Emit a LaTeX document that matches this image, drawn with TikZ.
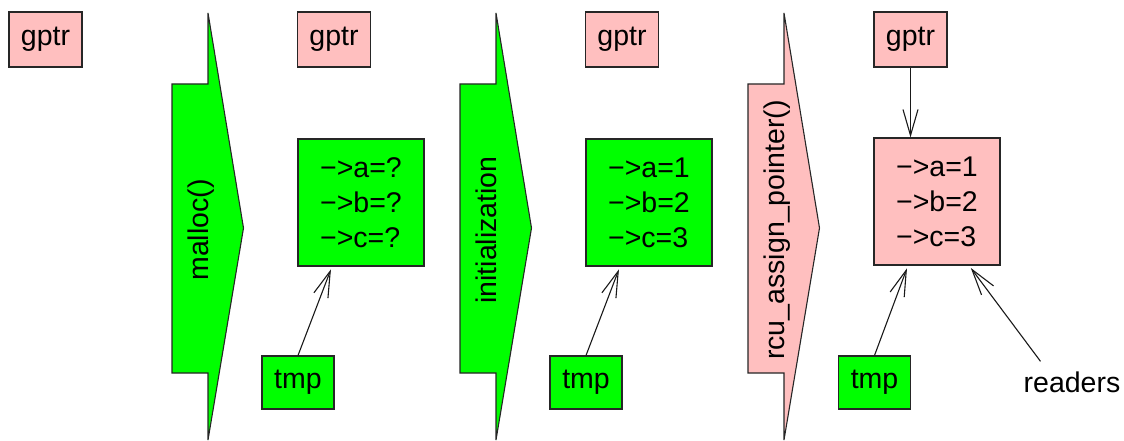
\documentclass[tikz,border=0pt]{standalone}
\usepackage{fontspec}
\setmainfont{Liberation Sans}
\usetikzlibrary{arrows.meta,calc}

\definecolor{xpink}{RGB}{255,191,191}
\definecolor{xgreen}{RGB}{0,255,0}

\tikzset{
  outline/.style={draw=black!85, line width=1.1pt},
  varbox/.style={outline, rectangle, inner sep=0pt,
                 minimum width=73pt, minimum height=55pt,
                 font=\fontsize{28.5}{34}\selectfont},
  structbox/.style={outline, rectangle, inner sep=0pt, align=left,
                 minimum width=126pt, minimum height=127pt,
                 font=\fontsize{28.5}{35}\selectfont},
  banner/.style={outline, line join=miter},
  bannertext/.style={rotate=90, anchor=base, inner sep=0pt,
                 font=\fontsize{28.5}{34}\selectfont},
  plain/.style={inner sep=0pt, font=\fontsize{28.5}{34}\selectfont},
  ptr/.style={draw=black!90, line width=1.1pt,
              -{Straight Barb[length=26pt,width=15pt,line width=1.1pt]}}
}

% Step arrow with a rotated caption; #1 = left edge, #2 = fill, #3 = node name, #4 = caption
\newcommand{\stepbanner}[4]{%
  \path[banner, fill=#2] (#1,84) -- ++(36,0) -- ++(0,-71) -- (#1+71.5,228)
     -- (#1+36,440) -- ++(0,-67) -- (#1,373) -- cycle;
  \node[bannertext] (#3) at (#1+36,230) {#4};
}

\begin{document}
\begin{tikzpicture}[x=1pt,y=-1pt]
\useasboundingbox (0,0) rectangle (1124,441);

% stage 0
\node[varbox, fill=xpink] (g0) at (45.5,39.5) {gptr};

% malloc()
\stepbanner{172}{xgreen}{b1}{malloc()}
\node[varbox, fill=xpink] (g1) at (334,39.5) {gptr};
\node[structbox, fill=xgreen] (s1) at (361,202.5) {−>a=?\\−>b=?\\−>c=?};
\node[varbox, fill=xgreen, minimum width=72pt, minimum height=53pt] (t1) at (298,382.5) {tmp};
\draw[ptr, shorten >=3pt] (t1.north) -- ([xshift=-29pt]s1.south);

% initialization
\stepbanner{460}{xgreen}{b2}{initialization}
\node[varbox, fill=xpink] (g2) at (622,39.5) {gptr};
\node[structbox, fill=xgreen] (s2) at (649,202.5) {−>a=1\\−>b=2\\−>c=3};
\node[varbox, fill=xgreen, minimum width=72pt, minimum height=53pt] (t2) at (586,382.5) {tmp};
\draw[ptr, shorten >=3pt] (t2.north) -- ([xshift=-29pt]s2.south);

% rcu_assign_pointer()
\stepbanner{748}{xpink}{b3}{rcu\_assign\_pointer()}
\node[varbox, fill=xpink] (g3) at (910.5,39.5) {gptr};
\node[structbox, fill=xpink] (s3) at (937,201.5) {−>a=1\\−>b=2\\−>c=3};
\node[varbox, fill=xgreen, minimum width=72pt, minimum height=53pt] (t3) at (874.5,382.5) {tmp};
\node[plain] (rd) at (1072,382) {readers};
\draw[ptr] (g3.south) -- (g3.south |- s3.north);
\draw[ptr, shorten >=3pt] (t3.north) -- ([xshift=-29pt]s3.south);
\draw[ptr, shorten >=3pt] ([xshift=17pt,yshift=10pt]rd.north west) -- ([xshift=32pt]s3.south);
\end{tikzpicture}
\end{document}
